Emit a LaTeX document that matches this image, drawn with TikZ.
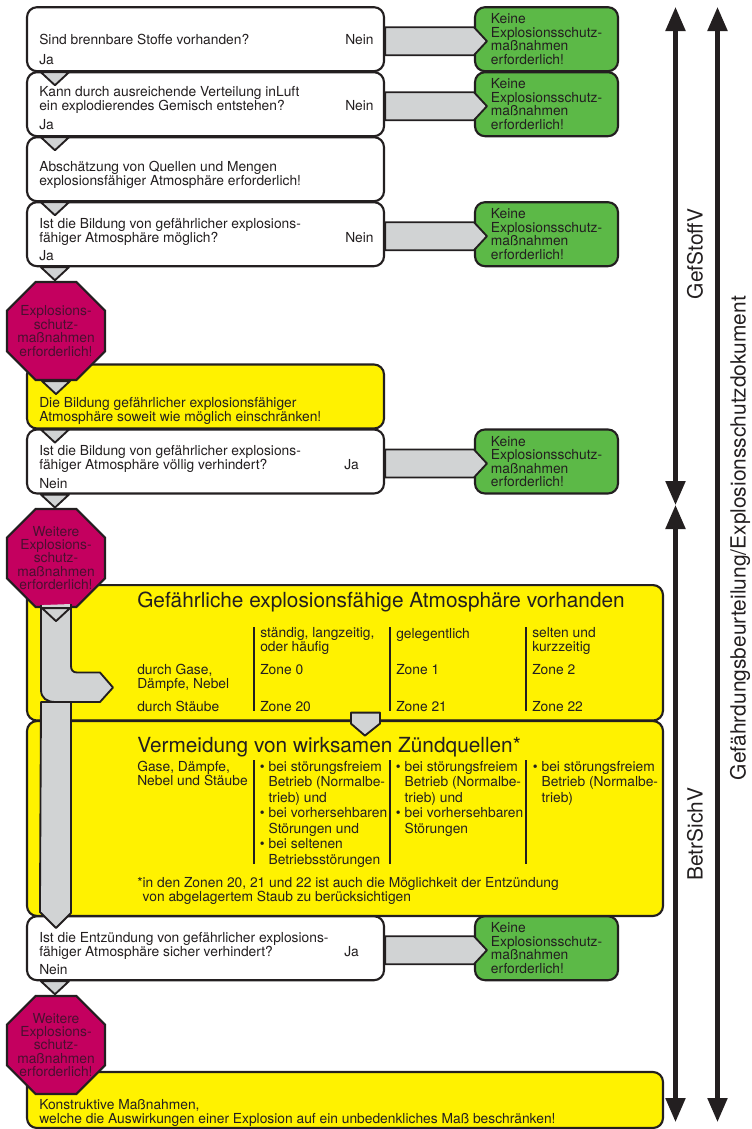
\documentclass[tikz,border=0pt]{standalone}
\usepackage{fontspec}
\setmainfont{TeX Gyre Heros}
\usepackage{xcolor}
\usepackage{tikz}
\usetikzlibrary{arrows.meta,shapes.geometric}
\definecolor{inkdark}{HTML}{231F20}
\definecolor{boxgray}{HTML}{D1D3D4}
\definecolor{boxyellow}{HTML}{FFF200}
\definecolor{boxgreen}{HTML}{5CB947}
\definecolor{stopred}{HTML}{C4005F}
\definecolor{stopink}{HTML}{4A1030}
\tikzset{
	box/.style={draw=inkdark,line width=1.6pt,rounded corners=7.5pt,inner sep=0pt,minimum height=48pt},
	whitebox/.style={box,fill=white,minimum width=267.75pt},
	lowbox/.style={box,fill=boxyellow,minimum width=267.75pt},
	widebox/.style={box,fill=boxyellow,minimum width=477pt},
	greenbox/.style={box,fill=boxgreen,minimum width=107.25pt,align=left,text=inkdark,font=\fontsize{10.35}{10.2}\selectfont},
	octa/.style={regular polygon,regular polygon sides=8,draw=inkdark,line width=1.6pt,fill=stopred,minimum size=79.6pt,inner sep=0pt},
	octatext/.style={align=center,inner sep=0pt,text=stopink,font=\fontsize{10.35}{10.1}\selectfont},
	txt/.style={anchor=base west,align=left,inner sep=0pt,text=inkdark,font=\fontsize{10.35}{10.5}\selectfont},
	bullettxt/.style={txt,font=\fontsize{10.35}{11.6}\selectfont},
	title/.style={anchor=base west,inner sep=0pt,text=inkdark,font=\fontsize{15.6}{15.6}\selectfont},
	sidetxt/.style={rotate=90,inner sep=0pt,text=inkdark,font=\fontsize{15.7}{15.7}\selectfont},
	graytip/.style={draw=inkdark,line width=1.4pt,fill=boxgray,line join=round},
	divider/.style={draw=inkdark,line width=1.6pt},
	span/.style={draw=inkdark,line width=3.2pt,{Triangle[width=14.5pt,length=18pt]}-{Triangle[width=14.5pt,length=18pt]}}
}
\newcommand{\downtip}[2]{\draw[graytip] (#1) ++(#2-14,0) -- ++(14,13) -- ++(14,-13) -- cycle;}
\newcommand{\sidearrow}[2]{\draw[graytip] ([yshift=9pt]#1.east) -- ([yshift=9pt]#2.west) -- ([xshift=9.75pt,yshift=-1.5pt]#2.west) -- ([yshift=-12pt]#2.west) -- ([yshift=-12pt]#1.east) -- cycle;}
\begin{document}
\begin{tikzpicture}[x=0.75pt,y=-0.75pt]
	\useasboundingbox (0,0) rectangle (751,1129);
	\node[widebox,minimum height=101.6pt] (zonea) at (345,652.8){};
	\node[widebox,minimum height=146.2pt] (zoneb) at (345,818.5){};
	\node[lowbox] (limit) at (205.5,396.5){};
	\node[widebox,minimum height=42pt] (design) at (345,1100){};

	\node[whitebox] (qa) at (205.5,39.2){};
	\node[whitebox] (qb) at (205.5,104.2){};
	\node[whitebox] (qc) at (205.5,169.2){};
	\node[whitebox] (qd) at (205.5,234.2){};
	\node[whitebox] (qe) at (205.5,461.5){};
	\node[whitebox] (qf) at (205.5,948.2){};

	\node[greenbox] (ga) at (546.5,39.2){Keine\\Explosionsschutz-\\maßnahmen\\erforderlich!};
	\node[greenbox] (gb) at (546.5,104.2){Keine\\Explosionsschutz-\\maßnahmen\\erforderlich!};
	\node[greenbox] (gd) at (546.5,234.2){Keine\\Explosionsschutz-\\maßnahmen\\erforderlich!};
	\node[greenbox] (ge) at (546.5,461.5){Keine\\Explosionsschutz-\\maßnahmen\\erforderlich!};
	\node[greenbox] (gf) at (546.5,948.2){Keine\\Explosionsschutz-\\maßnahmen\\erforderlich!};

	\sidearrow{qa}{ga}
	\sidearrow{qb}{gb}
	\sidearrow{qd}{gd}
	\sidearrow{qe}{ge}
	\sidearrow{qf}{gf}

	\node[txt] (qat) at (39,44){Sind brennbare Stoffe vorhanden?};
	\node[txt] (qan) at (345,44){Nein};
	\node[txt] (qaj) at (39,64){Ja};
	\node[txt] (qbt) at (39,110){Kann durch ausreichende Verteilung inLuft\\ein explodierendes Gemisch entstehen?};
	\node[txt] (qbn) at (345,110){Nein};
	\node[txt] (qbj) at (39,129){Ja};
	\node[txt] (qct) at (39,185){Abschätzung von Quellen und Mengen\\explosionsfähiger Atmosphäre erforderlich!};
	\node[txt] (qdt) at (39,242){Ist die Bildung von gefährlicher explosions-\\fähiger Atmosphäre möglich?};
	\node[txt] (qdn) at (345,242){Nein};
	\node[txt] (qdj) at (39,260){Ja};
	\node[txt] (limitt) at (39,421){Die Bildung gefährlicher explosionsfähiger\\Atmosphäre soweit wie möglich einschränken!};
	\node[txt] (qet) at (39,469){Ist die Bildung von gefährlicher explosions-\\fähiger Atmosphäre völlig verhindert?};
	\node[txt] (qej) at (344,469){Ja};
	\node[txt] (qen) at (39,488){Nein};
	\node[txt] (qft) at (39,956){Ist die Entzündung von gefährlicher explosions-\\fähiger Atmosphäre sicher verhindert?};
	\node[txt] (qfj) at (344,956){Ja};
	\node[txt] (qfn) at (39,974){Nein};
	\node[txt] (designt) at (39,1123){Konstruktive Maßnahmen,\\welche die Auswirkungen einer Explosion auf ein unbedenkliches Maß beschränken!};

	\node[title] (zoneat) at (137,607){Gefährliche explosionsfähige Atmosphäre vorhanden};
	\draw[divider] (254,627) -- (254,711);
	\draw[divider] (390,627) -- (390,711);
	\draw[divider] (526,627) -- (526,711);
	\node[txt] (cola) at (260,651){ständig, langzeitig,\\oder häufig};
	\node[txt] (colb) at (396,638){gelegentlich};
	\node[txt] (colc) at (532,651){selten und\\kurzzeitig};
	\node[txt] (gas) at (137,688){durch Gase,\\Dämpfe, Nebel};
	\node[txt] (gasa) at (260,674){Zone 0};
	\node[txt] (gasb) at (396,674){Zone 1};
	\node[txt] (gasc) at (532,674){Zone 2};
	\node[txt] (dust) at (137,711){durch Stäube};
	\node[txt] (dusta) at (260,711){Zone 20};
	\node[txt] (dustb) at (396,711){Zone 21};
	\node[txt] (dustc) at (532,711){Zone 22};

	\node[title] (zonebt) at (137,752){Vermeidung von wirksamen Zündquellen*};
	\draw[divider] (254,760) -- (254,864);
	\draw[divider] (390,760) -- (390,864);
	\draw[divider] (526,760) -- (526,864);
	\node[txt] (mix) at (137,785){Gase, Dämpfe,\\Nebel und Stäube};
	\node[bullettxt] (rulea) at (259.7,864){\textbullet\ bei störungsfreiem\\\hphantom{\textbullet\ }Betrieb (Normalbe-\\\hphantom{\textbullet\ }trieb) und\\\textbullet\ bei vorhersehbaren\\\hphantom{\textbullet\ }Störungen und\\\textbullet\ bei seltenen\\\hphantom{\textbullet\ }Betriebsstörungen};
	\node[bullettxt] (ruleb) at (395.7,833){\textbullet\ bei störungsfreiem\\\hphantom{\textbullet\ }Betrieb (Normalbe-\\\hphantom{\textbullet\ }trieb) und\\\textbullet\ bei vorhersehbaren\\\hphantom{\textbullet\ }Störungen};
	\node[bullettxt] (rulec) at (532.7,802){\textbullet\ bei störungsfreiem\\\hphantom{\textbullet\ }Betrieb (Normalbe-\\\hphantom{\textbullet\ }trieb)};
	\node[txt] (note) at (137,901){*in den Zonen 20, 21 und 22 ist auch die Möglichkeit der Entzündung\\\hphantom{*}von abgelagertem Staub zu berücksichtigen};

	\draw[graytip] (qf.north west) ++(14,-3) -- (41,702) -- (71,702) -- (71,913) -- (56,928) -- (41,913) -- cycle;
	\node[octa] (stopb) at (56,558){};
	\draw[graytip] (stopb.south) ++(-15,-3) -- (41,690) .. controls (41,698) and (47,702) .. (55,702) -- (100,702) -- (113,687.5) -- (100,672.5) -- (77,672.5) .. controls (73,672.5) and (71,670) .. (71,666) -- (71,604);
	\draw[graytip] (zonea.south west) ++(325,-9) -- ++(29,0) -- ++(0,11) -- ++(-15,12) -- ++(-14,-12) -- cycle;

	\node[octa] (stopa) at (56,331){};
	\node[octa] (stopc) at (56,1045){};
	\node[octatext] (stopat) at (56,331){Explosions-\\schutz-\\maßnahmen\\erforderlich!};
	\node[octatext] (stopbt) at (56,558){Weitere\\Explosions-\\schutz-\\maßnahmen\\erforderlich!};
	\node[octatext] (stopct) at (56,1045){Weitere\\Explosions-\\schutz-\\maßnahmen\\erforderlich!};

	\downtip{qa.south west}{29}
	\downtip{qb.south west}{29}
	\downtip{qc.south west}{29}
	\downtip{qd.south west}{29}
	\downtip{stopa.south}{0}
	\downtip{limit.south west}{29}
	\downtip{qe.south west}{29}
	\downtip{stopb.south}{0}
	\downtip{qf.south west}{29}

	\coordinate (lawatop) at (675.5,7);
	\coordinate (lawabot) at (675.5,505);
	\coordinate (lawbtop) at (675.5,505);
	\coordinate (lawbbot) at (675.5,1122);
	\coordinate (docutop) at (717.5,7);
	\coordinate (docubot) at (717.5,1122);
	\draw[span] (lawatop) -- (lawabot);
	\draw[span] (lawbtop) -- (lawbbot);
	\draw[span] (docutop) -- (docubot);
	\node[sidetxt] (gef) at (695,254){GefStoffV};
	\node[sidetxt] (betr) at (695,834){BetrSichV};
	\node[sidetxt] (doku) at (740,538){Gefährdungsbeurteilung/Explosionsschutzdokument};
\end{tikzpicture}
\end{document}
